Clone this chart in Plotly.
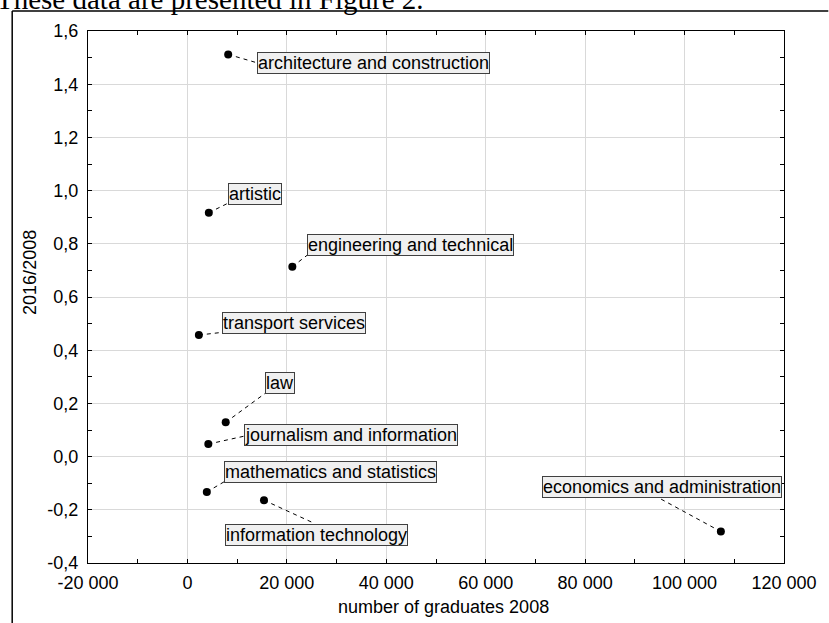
import plotly.graph_objects as go

# ---- data ----
fields = [
    "architecture and construction",
    "artistic",
    "engineering and technical",
    "transport services",
    "law",
    "journalism and information",
    "mathematics and statistics",
    "information technology",
    "economics and administration",
]
graduates_2008 = [8200, 4300, 21100, 2300, 7700, 4200, 3900, 15400, 107300]
ratio_2016_2008 = [1.512, 0.917, 0.714, 0.457, 0.129, 0.047, -0.133, -0.164, -0.282]

# label placement (data coordinates of the label box left edge / leader end)
label_x = [13900, 8250, 24150, 6950, 15700, 11450, 7350, 7650, 71300]
label_y = [1.479, 0.988, 0.795, 0.503, 0.277, 0.080, -0.059, -0.294, -0.115]
leader_x = [13900, 8100, 24150, 6950, 15650, 11450, 7350, 24950, 94600]
leader_y = [1.481, 0.952, 0.758, 0.467, 0.238, 0.077, -0.095, -0.246, -0.153]

x_tickvals = [-20000, 0, 20000, 40000, 60000, 80000, 100000, 120000]
x_ticktext = ["-20 000", "0", "20 000", "40 000", "60 000", "80 000", "100 000", "120 000"]
y_tickvals = [-0.4, -0.2, 0.0, 0.2, 0.4, 0.6, 0.8, 1.0, 1.2, 1.4, 1.6]
y_ticktext = ["-0,4", "-0,2", "0,0", "0,2", "0,4", "0,6", "0,8", "1,0", "1,2", "1,4", "1,6"]

FONT = "Arial, 'Liberation Sans', sans-serif"

fig = go.Figure()

# dashed leader lines
lx, ly = [], []
for i in range(len(fields)):
    lx += [graduates_2008[i], leader_x[i], None]
    ly += [ratio_2016_2008[i], leader_y[i], None]
fig.add_trace(go.Scatter(
    x=lx, y=ly, mode="lines",
    line=dict(color="black", width=1, dash="4px,4px"),
    hoverinfo="skip", showlegend=False,
))

# points
fig.add_trace(go.Scatter(
    x=graduates_2008, y=ratio_2016_2008, mode="markers",
    marker=dict(color="black", size=8),
    text=fields, showlegend=False,
))

annotations = []
for i, name in enumerate(fields):
    annotations.append(dict(
        x=label_x[i], y=label_y[i], xref="x", yref="y",
        text=name, showarrow=False, xanchor="left", yanchor="middle",
        font=dict(family=FONT, size=18, color="black"),
        bgcolor="#f0f0f0", bordercolor="#404040", borderwidth=1, borderpad=0,
    ))

# axis titles
annotations.append(dict(
    x=(449 - 88) / 707, y=(563 - 607) / 532, xref="paper", yref="paper",
    text="number of graduates 2008", showarrow=False,
    xanchor="center", yanchor="middle",
    font=dict(family=FONT, size=18, color="black"),
))
annotations.append(dict(
    x=(29 - 88) / 707, y=(563 - 272) / 532, xref="paper", yref="paper",
    text="2016/2008", showarrow=False, textangle=-90,
    xanchor="center", yanchor="middle",
    font=dict(family=FONT, size=18, color="black"),
))
# document text above the figure (cut by the page top)
annotations.append(dict(
    x=(-7 - 88) / 707, y=(563 - 17) / 532, xref="paper", yref="paper",
    text="These data are presented in Figure 2.", showarrow=False,
    xanchor="left", yanchor="bottom",
    font=dict(family="'Liberation Serif', 'Times New Roman', serif", size=29, color="black"),
))

shapes = [
    # document frame (top and left)
    dict(type="line", xref="paper", yref="paper",
         x0=(11 - 88) / 707, x1=(840 - 88) / 707,
         y0=(563 - 11) / 532, y1=(563 - 11) / 532,
         line=dict(color="black", width=1.5)),
    dict(type="line", xref="paper", yref="paper",
         x0=(11 - 88) / 707, x1=(11 - 88) / 707,
         y0=(563 - 11) / 532, y1=(563 - 640) / 532,
         line=dict(color="black", width=1.5)),
]

axis_common = dict(
    showline=True, linecolor="black", linewidth=1, mirror="allticks",
    ticks="inside", ticklen=4, tickcolor="black",
    showgrid=True, gridcolor="#d9d9d9", gridwidth=1, zeroline=False,
    tickfont=dict(family=FONT, size=18, color="black"),
)

fig.update_layout(
    width=829, height=623,
    margin=dict(l=88, r=34, t=31, b=60),
    paper_bgcolor="white", plot_bgcolor="white",
    xaxis=dict(range=[-20000, 120000], tickmode="array",
               tickvals=x_tickvals, ticktext=x_ticktext,
               minor=dict(dtick=10000, tick0=0, ticks="inside", ticklen=4,
                          tickcolor="black", showgrid=False),
               ticklabelstandoff=3, **axis_common),
    yaxis=dict(range=[-0.4, 1.6], tickmode="array",
               tickvals=y_tickvals, ticktext=y_ticktext,
               minor=dict(dtick=0.1, tick0=0, ticks="inside", ticklen=4,
                          tickcolor="black", showgrid=False),
               ticklabelstandoff=5, **axis_common),
    annotations=annotations,
    shapes=shapes,
    showlegend=False,
)

fig.write_html(
    "out.html",
    config={"displayModeBar": False},
    post_script="document.body.style.margin='0px';document.body.style.overflow='hidden';",
)
